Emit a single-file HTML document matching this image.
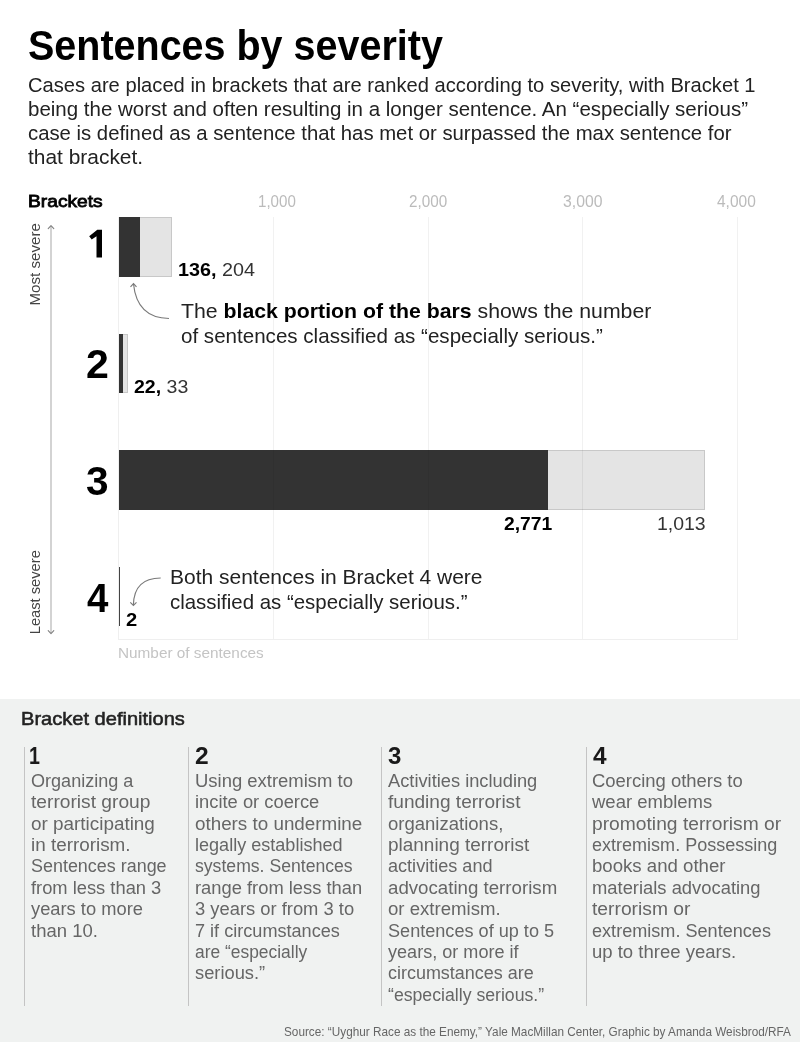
<!DOCTYPE html>
<html><head><meta charset="utf-8"><title>Sentences by severity</title>
<style>
html,body{margin:0;padding:0;background:#fff;}
body{width:800px;height:1042px;position:relative;overflow:hidden;will-change:transform;font-family:"Liberation Sans", sans-serif;}
.t{position:absolute;white-space:nowrap;line-height:1;transform-origin:0 0;}
.t b{font-weight:700;color:#000;}
.sb{-webkit-text-stroke:0.55px currentColor;}
.sb2{-webkit-text-stroke:0.8px currentColor;}
#panel{position:absolute;left:0;top:699px;width:800px;height:343px;background:#f0f2f1;}
</style></head><body>
<div id="panel"></div>
<svg width="800" height="1042" style="position:absolute;left:0;top:0">
<g shape-rendering="crispEdges">
<!-- axis frame -->
<rect x="118" y="217" width="1" height="423" fill="#efefef"/>
<rect x="118" y="639" width="620" height="1" fill="#efefef"/>
<!-- bars -->
<rect x="119" y="217" width="53" height="60" fill="#c8c8c8"/>
<rect x="120" y="218" width="51" height="58" fill="#e4e4e4"/>
<rect x="119" y="217" width="21" height="60" fill="#333"/>
<rect x="119" y="334" width="9" height="59" fill="#c8c8c8"/>
<rect x="120" y="335" width="7" height="57" fill="#e4e4e4"/>
<rect x="119" y="334" width="4" height="59" fill="#333"/>
<rect x="119" y="450" width="586" height="60" fill="#c8c8c8"/>
<rect x="120" y="451" width="584" height="58" fill="#e4e4e4"/>
<rect x="119" y="450" width="429" height="60" fill="#333"/>
<rect x="119" y="567" width="1" height="59" fill="#444"/>
<!-- gridlines -->
<g fill="#000" fill-opacity="0.055">
<rect x="273" y="217" width="1" height="422"/>
<rect x="428" y="217" width="1" height="422"/>
<rect x="582" y="217" width="1" height="422"/>
<rect x="737" y="217" width="1" height="422"/>
</g>
<!-- column borders -->
<g fill="#c4c4c4">
<rect x="24" y="747" width="1" height="259"/>
<rect x="188" y="747" width="1" height="259"/>
<rect x="381" y="747" width="1" height="259"/>
<rect x="586" y="747" width="1" height="259"/>
</g>
</g>
<!-- vertical axis arrow -->
<rect x="50.5" y="226" width="1" height="407" fill="#a8a8a8"/>
<g stroke="#808080" stroke-width="1.1" fill="none" stroke-linecap="round" stroke-linejoin="round">
<polyline points="48.2,228.6 51,225.6 53.8,228.6"/>
<polyline points="48.2,630.6 51,633.6 53.8,630.6"/>
</g>
<!-- annotation arrows -->
<g stroke="#7a7a7a" stroke-width="1.15" fill="none">
<path d="M169,318.5 Q137,318 133.5,284"/>
<polyline points="130.5,286.8 133.5,283.5 136.5,286.8"/>
<path d="M160.7,578 Q134,578 133.4,605"/>
<polyline points="130.3,602.3 133.4,605.4 136.5,602.3"/>
</g>
<polygon points="97.3,229.8 102,229.8 102,257.5 96.5,257.5 96.5,236.2 91.7,239.4 89.2,236.2" fill="#000"/>
<!-- rotated labels -->
<text transform="translate(40.1,305.6) rotate(-90) scale(0.99,1)" font-family="Liberation Sans, sans-serif" font-size="15.3" fill="#444">Most severe</text>
<text transform="translate(40.1,634.2) rotate(-90) scale(0.96,1)" font-family="Liberation Sans, sans-serif" font-size="15.3" fill="#444">Least severe</text>
</svg>

<div id="title" class="t " style="left:27.84px;top:23.51px;font-size:43px;font-weight:700;color:#000;transform:scaleX(0.9183);">Sentences by severity</div>
<div id="p1" class="t " style="left:28.30px;top:74.70px;font-size:20.5px;font-weight:400;color:#222;transform:scaleX(0.9828);">Cases are placed in brackets that are ranked according to severity, with Bracket 1</div>
<div id="p2" class="t " style="left:28.30px;top:98.70px;font-size:20.5px;font-weight:400;color:#222;transform:scaleX(0.9997);">being the worst and often resulting in a longer sentence. An “especially serious”</div>
<div id="p3" class="t " style="left:28.30px;top:122.70px;font-size:20.5px;font-weight:400;color:#222;transform:scaleX(0.9909);">case is defined as a sentence that has met or surpassed the max sentence for</div>
<div id="p4" class="t " style="left:28.30px;top:146.70px;font-size:20.5px;font-weight:400;color:#222;transform:scaleX(1.0205);">that bracket.</div>
<div id="brk" class="t sb2" style="left:28.16px;top:193.00px;font-size:17px;font-weight:400;color:#000;transform:scaleX(1.1294);">Brackets</div>
<div id="ax1" class="t " style="left:258.02px;top:194.00px;font-size:16px;font-weight:400;color:#bbb;transform:scaleX(0.9448);">1,000</div>
<div id="ax2" class="t " style="left:408.91px;top:194.00px;font-size:16px;font-weight:400;color:#bbb;transform:scaleX(0.9530);">2,000</div>
<div id="ax3" class="t " style="left:563.29px;top:194.00px;font-size:16px;font-weight:400;color:#bbb;transform:scaleX(0.9856);">3,000</div>
<div id="ax4" class="t " style="left:717.45px;top:194.00px;font-size:16px;font-weight:400;color:#bbb;transform:scaleX(0.9677);">4,000</div>
<div id="n2" class="t " style="left:86.27px;top:344.71px;font-size:40.3px;font-weight:700;color:#000;transform:scaleX(1.0204);">2</div>
<div id="n3" class="t " style="left:86.47px;top:461.81px;font-size:40.3px;font-weight:700;color:#000;transform:scaleX(1.0076);">3</div>
<div id="n4" class="t " style="left:86.90px;top:578.76px;font-size:40.3px;font-weight:700;color:#000;transform:scaleX(0.9540);">4</div>
<div id="v1" class="t " style="left:177.89px;top:260.26px;font-size:19px;font-weight:400;color:#333;transform:scaleX(1.0396);"><b>136,</b> 204</div>
<div id="v2" class="t " style="left:134.46px;top:376.71px;font-size:19px;font-weight:400;color:#333;transform:scaleX(1.0285);"><b>22,</b> 33</div>
<div id="v3" class="t " style="left:504.24px;top:514.01px;font-size:19px;font-weight:400;color:#333;transform:scaleX(1.0152);"><b>2,771</b></div>
<div id="v3b" class="t " style="left:657.00px;top:514.01px;font-size:19px;font-weight:400;color:#333;transform:scaleX(1.0242);">1,013</div>
<div id="v4" class="t " style="left:126.42px;top:609.60px;font-size:19px;font-weight:400;color:#333;transform:scaleX(1.0605);"><b>2</b></div>
<div id="a1" class="t " style="left:180.90px;top:300.22px;font-size:21px;font-weight:400;color:#222;transform:scaleX(1.0126);">The <b>black portion of the bars</b> shows the number</div>
<div id="a2" class="t " style="left:180.90px;top:325.22px;font-size:21px;font-weight:400;color:#222;transform:scaleX(0.9794);">of sentences classified as “especially serious.”</div>
<div id="a3" class="t " style="left:170.00px;top:566.00px;font-size:21px;font-weight:400;color:#222;transform:scaleX(0.9990);">Both sentences in Bracket 4 were</div>
<div id="a4" class="t " style="left:170.00px;top:590.72px;font-size:21px;font-weight:400;color:#222;transform:scaleX(0.9727);">classified as “especially serious.”</div>
<div id="nos" class="t " style="left:118.47px;top:646.01px;font-size:14.5px;font-weight:400;color:#c4c4c4;transform:scaleX(1.0575);">Number of sentences</div>
<div id="bd" class="t sb" style="left:21.32px;top:709.01px;font-size:19px;font-weight:400;color:#222;transform:scaleX(1.0556);">Bracket definitions</div>
<div id="cn1" class="t " style="left:28.64px;top:744.51px;font-size:23px;font-weight:700;color:#1a1a1a;transform:scaleX(0.8536);">1</div>
<div id="cn2" class="t " style="left:195.08px;top:744.51px;font-size:23px;font-weight:700;color:#1a1a1a;transform:scaleX(1.0685);">2</div>
<div id="cn3" class="t " style="left:388.35px;top:744.51px;font-size:23px;font-weight:700;color:#1a1a1a;transform:scaleX(1.0440);">3</div>
<div id="cn4" class="t " style="left:593.19px;top:744.51px;font-size:23px;font-weight:700;color:#1a1a1a;transform:scaleX(1.0604);">4</div>
<div id="c1_0" class="t " style="left:30.96px;top:772.01px;font-size:18.3px;font-weight:400;color:#666;transform:scaleX(0.9880);">Organizing a</div>
<div id="c1_1" class="t " style="left:30.96px;top:793.37px;font-size:18.3px;font-weight:400;color:#666;transform:scaleX(1.0495);">terrorist group</div>
<div id="c1_2" class="t " style="left:30.96px;top:814.72px;font-size:18.3px;font-weight:400;color:#666;transform:scaleX(1.0331);">or participating</div>
<div id="c1_3" class="t " style="left:30.96px;top:836.08px;font-size:18.3px;font-weight:400;color:#666;transform:scaleX(1.0318);">in terrorism.</div>
<div id="c1_4" class="t " style="left:30.96px;top:857.45px;font-size:18.3px;font-weight:400;color:#666;transform:scaleX(0.9809);">Sentences range</div>
<div id="c1_5" class="t " style="left:30.96px;top:878.81px;font-size:18.3px;font-weight:400;color:#666;transform:scaleX(1.0017);">from less than 3</div>
<div id="c1_6" class="t " style="left:30.96px;top:900.17px;font-size:18.3px;font-weight:400;color:#666;transform:scaleX(1.0013);">years to more</div>
<div id="c1_7" class="t " style="left:30.96px;top:921.53px;font-size:18.3px;font-weight:400;color:#666;transform:scaleX(1.0121);">than 10.</div>
<div id="c2_0" class="t " style="left:194.53px;top:772.01px;font-size:18.3px;font-weight:400;color:#666;transform:scaleX(1.0093);">Using extremism to</div>
<div id="c2_1" class="t " style="left:194.53px;top:793.37px;font-size:18.3px;font-weight:400;color:#666;transform:scaleX(1.0026);">incite or coerce</div>
<div id="c2_2" class="t " style="left:194.53px;top:814.72px;font-size:18.3px;font-weight:400;color:#666;transform:scaleX(1.0289);">others to undermine</div>
<div id="c2_3" class="t " style="left:194.53px;top:836.08px;font-size:18.3px;font-weight:400;color:#666;transform:scaleX(0.9880);">legally established</div>
<div id="c2_4" class="t " style="left:194.53px;top:857.45px;font-size:18.3px;font-weight:400;color:#666;transform:scaleX(0.9639);">systems. Sentences</div>
<div id="c2_5" class="t " style="left:194.53px;top:878.81px;font-size:18.3px;font-weight:400;color:#666;transform:scaleX(1.0030);">range from less than</div>
<div id="c2_6" class="t " style="left:194.53px;top:900.17px;font-size:18.3px;font-weight:400;color:#666;transform:scaleX(1.0039);">3 years or from 3 to</div>
<div id="c2_7" class="t " style="left:194.53px;top:921.53px;font-size:18.3px;font-weight:400;color:#666;transform:scaleX(0.9901);">7 if circumstances</div>
<div id="c2_8" class="t " style="left:194.53px;top:942.88px;font-size:18.3px;font-weight:400;color:#666;transform:scaleX(0.9521);">are “especially</div>
<div id="c2_9" class="t " style="left:194.53px;top:964.24px;font-size:18.3px;font-weight:400;color:#666;transform:scaleX(1.0005);">serious.”</div>
<div id="c3_0" class="t " style="left:387.97px;top:772.01px;font-size:18.3px;font-weight:400;color:#666;transform:scaleX(0.9993);">Activities including</div>
<div id="c3_1" class="t " style="left:387.97px;top:793.37px;font-size:18.3px;font-weight:400;color:#666;transform:scaleX(1.0427);">funding terrorist</div>
<div id="c3_2" class="t " style="left:387.97px;top:814.72px;font-size:18.3px;font-weight:400;color:#666;transform:scaleX(1.0131);">organizations,</div>
<div id="c3_3" class="t " style="left:387.97px;top:836.08px;font-size:18.3px;font-weight:400;color:#666;transform:scaleX(1.0375);">planning terrorist</div>
<div id="c3_4" class="t " style="left:387.97px;top:857.45px;font-size:18.3px;font-weight:400;color:#666;transform:scaleX(0.9891);">activities and</div>
<div id="c3_5" class="t " style="left:387.97px;top:878.81px;font-size:18.3px;font-weight:400;color:#666;transform:scaleX(1.0217);">advocating terrorism</div>
<div id="c3_6" class="t " style="left:387.97px;top:900.17px;font-size:18.3px;font-weight:400;color:#666;transform:scaleX(1.0176);">or extremism.</div>
<div id="c3_7" class="t " style="left:387.97px;top:921.53px;font-size:18.3px;font-weight:400;color:#666;transform:scaleX(0.9901);">Sentences of up to 5</div>
<div id="c3_8" class="t " style="left:387.97px;top:942.88px;font-size:18.3px;font-weight:400;color:#666;transform:scaleX(0.9886);">years, or more if</div>
<div id="c3_9" class="t " style="left:387.97px;top:964.24px;font-size:18.3px;font-weight:400;color:#666;transform:scaleX(0.9820);">circumstances are</div>
<div id="c3_10" class="t " style="left:387.97px;top:985.60px;font-size:18.3px;font-weight:400;color:#666;transform:scaleX(0.9665);">“especially serious.”</div>
<div id="c4_0" class="t " style="left:592.32px;top:772.01px;font-size:18.3px;font-weight:400;color:#666;transform:scaleX(1.0084);">Coercing others to</div>
<div id="c4_1" class="t " style="left:592.32px;top:793.37px;font-size:18.3px;font-weight:400;color:#666;transform:scaleX(1.0113);">wear emblems</div>
<div id="c4_2" class="t " style="left:592.32px;top:814.72px;font-size:18.3px;font-weight:400;color:#666;transform:scaleX(1.0522);">promoting terrorism or</div>
<div id="c4_3" class="t " style="left:592.32px;top:836.08px;font-size:18.3px;font-weight:400;color:#666;transform:scaleX(0.9862);">extremism. Possessing</div>
<div id="c4_4" class="t " style="left:592.32px;top:857.45px;font-size:18.3px;font-weight:400;color:#666;transform:scaleX(1.0184);">books and other</div>
<div id="c4_5" class="t " style="left:592.32px;top:878.81px;font-size:18.3px;font-weight:400;color:#666;transform:scaleX(1.0050);">materials advocating</div>
<div id="c4_6" class="t " style="left:592.32px;top:900.17px;font-size:18.3px;font-weight:400;color:#666;transform:scaleX(1.0541);">terrorism or</div>
<div id="c4_7" class="t " style="left:592.32px;top:921.53px;font-size:18.3px;font-weight:400;color:#666;transform:scaleX(0.9896);">extremism. Sentences</div>
<div id="c4_8" class="t " style="left:592.32px;top:942.88px;font-size:18.3px;font-weight:400;color:#666;transform:scaleX(1.0125);">up to three years.</div>
<div id="src" class="t " style="left:283.83px;top:1025.20px;font-size:13.4px;font-weight:400;color:#666;transform:scaleX(0.8792);">Source: “Uyghur Race as the Enemy,” Yale MacMillan Center, Graphic by Amanda Weisbrod/RFA</div>
</body></html>
